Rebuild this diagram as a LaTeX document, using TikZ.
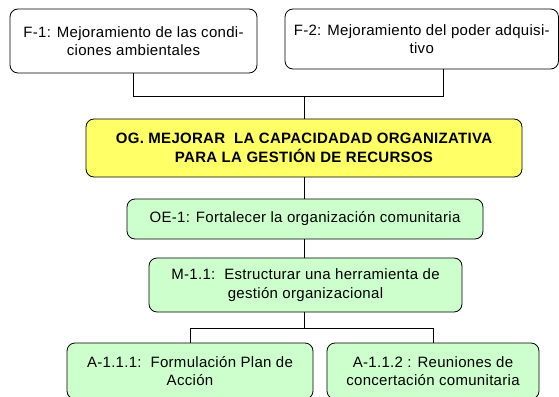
\documentclass[tikz,border=0pt]{standalone}
\usepackage{fontspec}
\setmainfont{Liberation Sans}[LetterSpace=2]

\definecolor{objyellow}{HTML}{FFFF66}
\definecolor{objgreen}{HTML}{CCFFCC}

\tikzset{
  box/.style={draw=black, line width=0.8pt, rounded corners=8pt, align=center,
    inner sep=0pt, font=\fontsize{15}{18.5}\selectfont},
  link/.style={draw=black, line width=0.8pt}
}

\begin{document}
\begin{tikzpicture}[x=1pt,y=-1pt]
            \useasboundingbox (0,0) rectangle (559,396);
            % fines
            \node [box, fill=white, minimum width=247pt, minimum height=64pt] (f1) at (133.5,41) {F-1: Mejoramiento de las condi-\\ciones ambientales};
            \node [box, fill=white, minimum width=273.5pt, minimum height=60pt] (f2) at (421.75,39) {F-2: Mejoramiento del poder adquisi-\\tivo};
            % objetivo general
            \node [box, fill=objyellow, minimum width=436pt, minimum height=58pt, font=\fontsize{15}{18.5}\selectfont\bfseries] (og) at (304,148) {OG. MEJORAR\ \ LA CAPACIDADAD ORGANIZATIVA\\PARA LA GESTIÓN DE RECURSOS};
            % objetivo especifico, meta, acciones
            \node [box, fill=objgreen, minimum width=356pt, minimum height=40pt] (oe) at (305,219) {OE-1: Fortalecer la organización comunitaria};
            \node [box, fill=objgreen, minimum width=313pt, minimum height=54pt] (m) at (305.5,285) {M-1.1:\ \ Estructurar una herramienta de\\gestión organizacional};
            \node [box, fill=objgreen, minimum width=246pt, minimum height=56pt] (a1) at (190,371) {A-1.1.1:\ \ Formulación Plan de\\Acción};
            \node [box, fill=objgreen, minimum width=212pt, minimum height=56pt] (a2) at (433,371) {A-1.1.2 : Reuniones de\\concertación comunitaria};
            % conectores
            \coordinate (hub1) at (304,96);
            \coordinate (hub2) at (304,328);
            \draw [link] (f1.south) |- (hub1);
            \draw [link] ([xshift=21.5pt]f2.south) |- (hub1);
            \draw [link] (hub1) -- (og.north);
            \draw [link] (og.south) -- (og.south |- oe.north);
            \draw [link] (og.south |- oe.south) -- (og.south |- m.north);
            \draw [link] (og.south |- m.south) -- (hub2);
            \draw [link] (hub2) -| (a1.north);
            \draw [link] (hub2) -| (a2.north);
\end{tikzpicture}
\end{document}
